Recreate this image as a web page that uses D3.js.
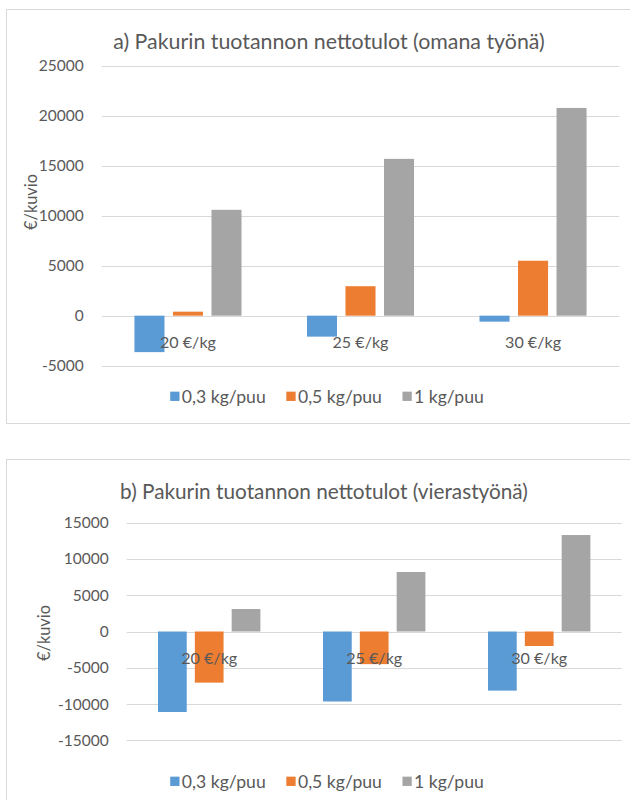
<!DOCTYPE html>
<html><head><meta charset="utf-8">
<script src="https://cdn.jsdelivr.net/npm/d3@7"></script>
<style>
body{margin:0;background:#fff}
text{font-family:Lato,"Noto Sans",sans-serif;fill:#595959}
</style>
</head><body><svg id="c" width="630" height="800"></svg>
<script>
const categories = ["20 €/kg", "25 €/kg", "30 €/kg"];
const seriesNames = ["0,3 kg/puu", "0,5 kg/puu", "1 kg/puu"];
const seriesColors = ["#5B9BD5", "#ED7D31", "#A5A5A5"];
// values per series, one per category
const omanaTyona = [[-3650, -2100, -600], [400, 2950, 5500], [10600, 15700, 20800]];
const vierastyona = [[-11100, -9650, -8150], [-7050, -4500, -2000], [3100, 8200, 13300]];
const ticksA = [-5000, 0, 5000, 10000, 15000, 20000, 25000];
const ticksB = [-15000, -10000, -5000, 0, 5000, 10000, 15000];
const titleA = "a) Pakurin tuotannon nettotulot (omana työnä)";
const titleB = "b) Pakurin tuotannon nettotulot (vierastyönä)";
const yTitle = "€/kuvio";

const svg = d3.select("#c");

// size text so that a reference string reaches a measured width
function fitSize(str, width, weight) {
  const t = svg.append("text").style("font-size", "20px").text(str);
  const w = t.node().getComputedTextLength();
  t.remove();
  return 20 * width / w;
}
const tickSize = fitSize("25000", 45);
const catSize = fitSize("20 €/kg", 56);
const legSize = fitSize("0,3 kg/puu", 84);
const ySize = fitSize(yTitle, 56);

function drawChart(cfg) {
  const g = svg.append("g");
  g.append("rect").attr("x", cfg.box[0]).attr("y", cfg.box[1]).attr("width", cfg.box[2]).attr("height", cfg.box[3])
    .attr("fill", "#fff").attr("stroke", "#d9d9d9").attr("stroke-width", 1);
  const y = d3.scaleLinear().domain(d3.extent(cfg.ticks)).range([cfg.py[1], cfg.py[0]]);
  const x0 = d3.scaleBand().domain(categories).range(cfg.px);
  const x1 = d3.scaleBand().domain(seriesNames).range([0, x0.bandwidth()]).paddingInner(0.22).paddingOuter(0.85);

  // gridlines
  g.append("g").selectAll("line").data(cfg.ticks).join("line")
    .attr("x1", cfg.px[0]).attr("x2", cfg.px[1])
    .attr("y1", d => Math.round(y(d)) + 0.5).attr("y2", d => Math.round(y(d)) + 0.5)
    .attr("stroke", "#d9d9d9").attr("stroke-width", 1.2);
  // y tick labels
  const yAxis = d3.axisLeft(y).tickValues(cfg.ticks).tickSize(0).tickPadding(0).tickFormat(d => String(d));
  const ya = g.append("g").attr("transform", `translate(${cfg.px[0] - 18},0)`).call(yAxis);
  ya.select(".domain").remove();
  ya.selectAll("text").style("font-size", tickSize + "px").attr("fill", "#595959").attr("font-family", "Lato");

  // bars
  const sg = g.append("g").selectAll("g").data(seriesNames).join("g").attr("fill", (d, i) => seriesColors[i]);
  sg.each(function(s, si) {
    d3.select(this).selectAll("rect").data(cfg.values[si]).join("rect")
      .attr("x", (v, ci) => x0(categories[ci]) + x1(s))
      .attr("width", x1.bandwidth())
      .attr("y", v => y(Math.max(0, v)))
      .attr("height", v => Math.abs(y(v) - y(0)));
  });

  // category labels (at zero line)
  const xAxis = d3.axisBottom(x0).tickSize(0).tickPadding(0);
  const xa = g.append("g").attr("transform", `translate(0,${y(0)})`).call(xAxis);
  xa.select(".domain").remove();
  xa.selectAll("text").attr("dy", null).attr("y", 25.5).attr("dominant-baseline", "central")
    .style("font-size", catSize + "px").attr("fill", "#595959").attr("font-family", "Lato");

  // title
  g.append("text").attr("x", cfg.title[1]).attr("y", cfg.title[2]).attr("text-anchor", "middle")
    .attr("dominant-baseline", "central").style("font-size", fitSize(cfg.title[0], cfg.title[3]) + "px").text(cfg.title[0]);
  // y axis title
  g.append("text").attr("transform", `translate(${cfg.ylab[0]},${cfg.ylab[1]}) rotate(-90)`)
    .attr("text-anchor", "middle").attr("dominant-baseline", "central").style("font-size", ySize + "px").text(yTitle);

  // legend
  const lg = g.append("g");
  const items = lg.selectAll("g").data(seriesNames).join("g");
  items.append("rect").attr("width", 9.3).attr("height", 9.3).attr("y", -4.65).attr("fill", (d, i) => seriesColors[i]);
  items.append("text").attr("x", 11.6).attr("dominant-baseline", "central").style("font-size", legSize + "px").text(d => d);
  let cx = 0;
  items.each(function() {
    d3.select(this).attr("transform", `translate(${cx},0)`);
    const w = 11.6 + d3.select(this).select("text").node().getComputedTextLength();
    cx += w + 20.6;
  });
  const total = cx - 20.6;
  lg.attr("transform", `translate(${cfg.legend[0] - total / 2},${cfg.legend[1]})`);
}

drawChart({
  box: [6.5, 9.5, 630, 414], px: [101.7, 619.3], py: [66, 365.6], ticks: ticksA, values: omanaTyona,
  title: [titleA, 329, 41, 432], ylab: [30, 202], legend: [327, 396.3]
});
drawChart({
  box: [6.5, 459.5, 630, 400], px: [126.7, 621.7], py: [522.7, 740.3], ticks: ticksB, values: vierastyona,
  title: [titleB, 324, 491, 408], ylab: [43.3, 633], legend: [327, 781.3]
});
</script>
</body></html>
